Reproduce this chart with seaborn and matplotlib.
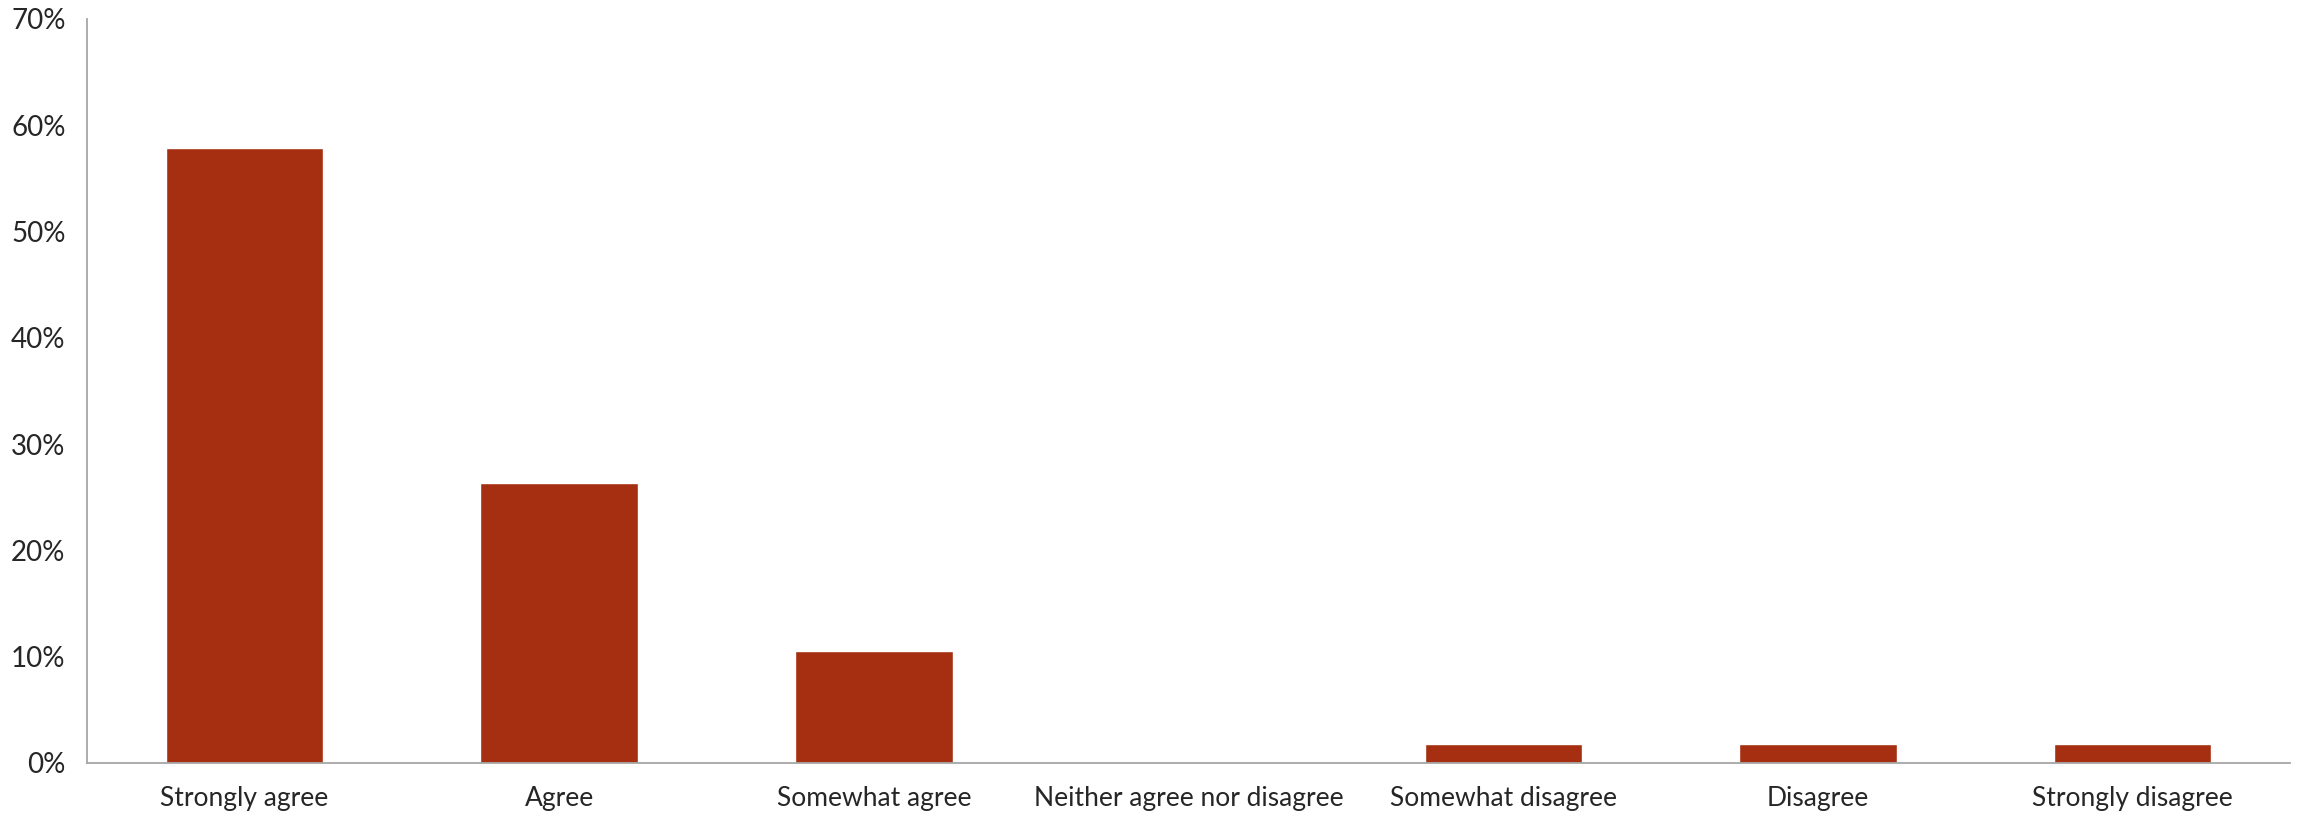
import numpy as np
import pandas as pd
import matplotlib
matplotlib.use("Agg")
import matplotlib.pyplot as plt
import seaborn as sns
from matplotlib.ticker import FixedLocator, PercentFormatter

categories = ["Strongly agree", "Agree", "Somewhat agree", "Neither agree nor disagree",
              "Somewhat disagree", "Disagree", "Strongly disagree"]
shares = [57.9, 26.3, 10.5, 0.0, 1.75, 1.75, 1.75]
y_ticks = [0, 10, 20, 30, 40, 50, 60, 70]

df = pd.DataFrame({"response": categories, "share": shares})

sns.set_style("white")
plt.rcParams["font.family"] = ["Lato", "DejaVu Sans"]

fig = plt.figure(figsize=(22.97, 8.14), dpi=100)
ax = fig.add_axes([0.0379, 0.0627, 0.9591, 0.914])

sns.barplot(data=df, x="response", y="share", color="#A52F10", width=0.5,
            saturation=1, ax=ax)

axis_grey = "#A6A6A6"
ax.set_xlim(-0.5, len(categories) - 0.5)
ax.set_ylim(0, 70)
ax.set_yticks(y_ticks)
ax.yaxis.set_major_formatter(PercentFormatter(decimals=0))
ax.set_xlabel("")
ax.set_ylabel("")

# category separators as outward ticks on the x axis
ax.xaxis.set_minor_locator(FixedLocator(np.arange(-0.5, len(categories), 1.0)))
ax.tick_params(axis="x", which="major", length=0, pad=16.5, labelsize=19)
ax.tick_params(axis="x", which="minor", length=6, width=1.2, color=axis_grey, direction="out")
ax.tick_params(axis="y", length=6.5, width=1.2, color=axis_grey, direction="out",
               labelsize=20, pad=9)

for side in ["top", "right"]:
    ax.spines[side].set_visible(False)
for side in ["left", "bottom"]:
    ax.spines[side].set_color(axis_grey)
    ax.spines[side].set_linewidth(1.3)

fig.savefig("out.png", dpi=100)
